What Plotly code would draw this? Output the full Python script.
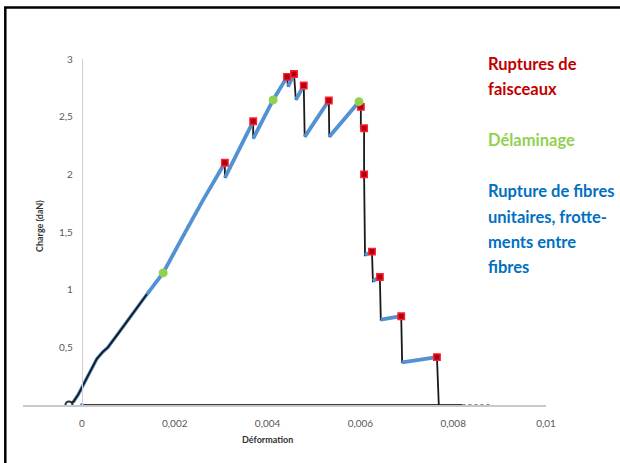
import plotly.graph_objects as go

# Load–strain curve of the specimen (strain, load in daN)
strain = [-0.00028, -0.00018, -0.00008, 0.0, 0.0001, 0.0002, 0.00032, 0.00045, 0.00056,
          0.0008, 0.0011, 0.0014,
          0.00175, 0.0022, 0.0026, 0.00308, 0.00308, 0.00369, 0.00369, 0.00412, 0.00442,
          0.00444, 0.00457, 0.00461, 0.00478, 0.00480, 0.00532, 0.00533, 0.00597, 0.00601,
          0.00601, 0.00608, 0.00608, 0.00610, 0.00625, 0.00627, 0.00642, 0.00644, 0.00688,
          0.00690, 0.00765, 0.00769]
load = [0.0, 0.03, 0.09, 0.15, 0.23, 0.31, 0.40, 0.46, 0.50,
        0.63, 0.80, 0.96,
        1.145, 1.48, 1.77, 2.10, 1.97, 2.46, 2.31, 2.645, 2.845,
        2.76, 2.87, 2.645, 2.77, 2.325, 2.64, 2.325, 2.63, 2.585,
        2.40, 2.40, 2.00, 1.30, 1.33, 1.075, 1.11, 0.74, 0.77,
        0.37, 0.415, 0.0]

# Bundle ruptures (red squares)
bundle_strain = [0.00308, 0.00369, 0.00442, 0.00457, 0.00478, 0.00532, 0.00601, 0.00608,
                 0.00608, 0.00625, 0.00642, 0.00688, 0.00765]
bundle_load = [2.10, 2.46, 2.845, 2.87, 2.77, 2.64, 2.585, 2.40, 2.00, 1.33, 1.11, 0.77, 0.415]

# Delamination events (green dots)
delam_strain = [0.00175, 0.00412, 0.00597]
delam_load = [1.145, 2.645, 2.63]

# Residual zero-load record after failure
tail_strain = [0.0, 0.0082]
tail_load = [0.0, 0.0]

x_ticks = [0, 0.002, 0.004, 0.006, 0.008, 0.01]
x_ticktext = ["0", "0,002", "0,004", "0,006", "0,008", "0,01"]
y_ticks = [0.5, 1, 1.5, 2, 2.5, 3]
y_ticktext = ["0,5", "1", "1,5", "2", "2,5", "3"]

legend_lines = [
    ("Ruptures de", "#c00000"),
    ("faisceaux", "#c00000"),
    ("Délaminage", "#92d050"),
    ("Rupture de fibres", "#0070c0"),
    ("unitaires, frotte-", "#0070c0"),
    ("ments entre", "#0070c0"),
    ("fibres", "#0070c0"),
]
legend_px_y = [64, 89, 140, 191, 217, 242, 267]

W, H = 620, 463
L, R, T, B = 23, 74, 59, 58
XR = [-0.00127, 0.01]
YR = [0, 3]
pw, ph = W - L - R, H - T - B


def px_to_paper(px, py):
    return (px - L) / pw, (H - B - py) / ph


BLUE = "#5291d2"
fig = go.Figure()

# early part of the curve: blue beneath the black line
early_x = [s for s in strain if s <= 0.0014]
early_y = load[:len(early_x)]
fig.add_trace(go.Scatter(x=early_x, y=early_y, mode="lines",
                         line=dict(color=BLUE, width=3.4), hoverinfo="skip"))

fig.add_trace(go.Scatter(x=tail_strain, y=tail_load, mode="lines",
                         line=dict(color="#3a3a3a", width=2), hoverinfo="skip"))
fig.add_trace(go.Scatter(x=[0.0082, 0.0088], y=[0, 0], mode="lines",
                         line=dict(color="#8a8a8a", width=2, dash="dot"), hoverinfo="skip"))

fig.add_trace(go.Scatter(x=strain, y=load, mode="lines",
                         line=dict(color="#1a1a1a", width=1.8), hoverinfo="skip"))

# loading segments (load rising) highlighted in blue
bx, by = [], []
for i in range(len(strain) - 1):
    if strain[i] >= 0.0013 and load[i + 1] > load[i]:
        bx += [strain[i], strain[i + 1], None]
        by += [load[i], load[i + 1], None]
fig.add_trace(go.Scatter(x=bx, y=by, mode="lines",
                         line=dict(color=BLUE, width=3.8), hoverinfo="skip"))

fig.add_trace(go.Scatter(x=[strain[0]], y=[load[0]], mode="markers",
                         marker=dict(color="#ffffff", size=7, line=dict(color="#333333", width=2))))
fig.add_trace(go.Scatter(x=[0.0], y=[0.0], mode="markers",
                         marker=dict(color=BLUE, size=4)))

fig.add_trace(go.Scatter(x=bundle_strain, y=bundle_load, mode="markers",
                         marker=dict(symbol="square", color="#b00010", size=6.5,
                                     line=dict(color="#ff2030", width=1.4))))
fig.add_trace(go.Scatter(x=delam_strain, y=delam_load, mode="markers",
                         marker=dict(color="#92d050", size=9)))

annotations = []
for (txt, col), py in zip(legend_lines, legend_px_y):
    ax, ay = px_to_paper(486, py)
    annotations.append(dict(x=ax, y=ay, xref="paper", yref="paper", text="<b>%s</b>" % txt,
                            showarrow=False, xanchor="left", yanchor="middle",
                            font=dict(family="Lato", size=16.5, color=col)))

tx, ty = px_to_paper(40, 226)
annotations.append(dict(x=tx, y=ty, xref="paper", yref="paper", text="<b>Charge (daN)</b>",
                        textangle=-90, showarrow=False, xanchor="center", yanchor="middle",
                        font=dict(family="Lato", size=9, color="#333333")))
_, xy = px_to_paper(0, 439)
annotations.append(dict(x=0.004, y=xy, xref="x", yref="paper", text="<b>Déformation</b>",
                        showarrow=False, xanchor="center", yanchor="middle",
                        font=dict(family="Lato", size=9, color="#333333")))

fx0, fy0 = px_to_paper(5.3, 7.5)
fx1, fy1 = px_to_paper(640, 480)
shapes = [dict(type="rect", xref="paper", yref="paper", x0=fx0, y0=fy1, x1=fx1, y1=fy0,
               line=dict(color="#000000", width=2.5), fillcolor="rgba(0,0,0,0)", layer="above")]

yaxis_pos = (0 - XR[0]) / (XR[1] - XR[0])

fig.update_layout(
    width=W, height=H,
    margin=dict(l=L, r=R, t=T, b=B),
    paper_bgcolor="white", plot_bgcolor="white",
    showlegend=False,
    font=dict(family="Lato", color="#595959"),
    xaxis=dict(range=XR, tickvals=x_ticks, ticktext=x_ticktext, showgrid=False, zeroline=False,
               showline=True, linecolor="#c8c8c8", linewidth=1.5, ticks="",
               tickfont=dict(size=10, color="#595959"), ticklabelstandoff=8),
    yaxis=dict(range=YR, tickvals=y_ticks, ticktext=y_ticktext, showgrid=False, zeroline=False,
               showline=True, linecolor="#d0d0d0", linewidth=1, ticks="",
               anchor="free", position=yaxis_pos,
               tickfont=dict(size=10, color="#595959"), ticklabelstandoff=7),
    annotations=annotations,
    shapes=shapes,
)

fig.write_html("out.html")
